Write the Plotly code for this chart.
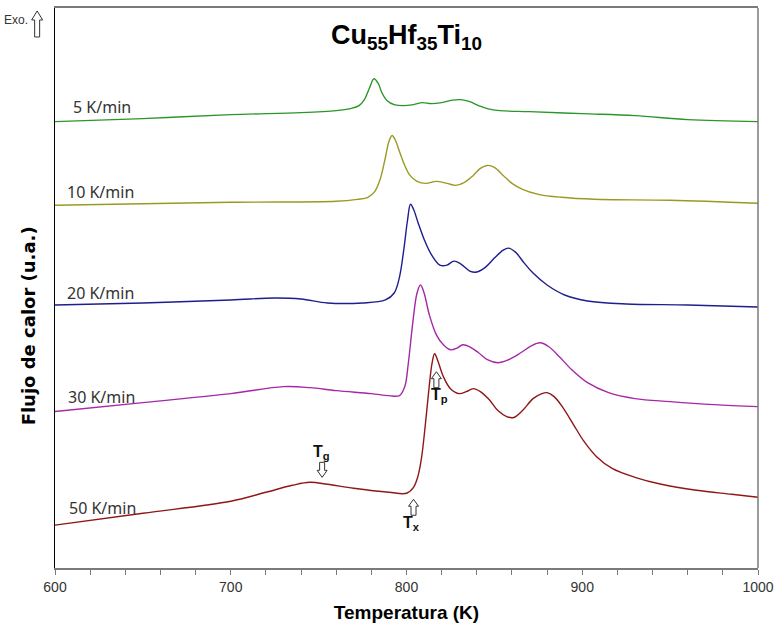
import plotly.graph_objects as go

# ---- data (T in K, heat flow in arbitrary units) ----
t_5 = [600, 650, 700, 740, 760, 768, 773, 776, 779, 781.5, 784, 786, 789, 793, 798, 804, 809, 814, 820, 826, 831, 836, 841, 846, 853, 870, 900, 930, 960, 1000]
q_5 = [448, 451, 455, 457, 459, 461, 464, 470, 482, 491, 486, 477, 469, 465, 464, 465, 467, 466, 467, 469.5, 470, 468, 464, 461, 459, 458, 456, 454, 450, 448]

t_10 = [600, 700, 760, 772, 778, 782, 785, 788, 790, 791.8, 793.5, 796, 799, 802, 806, 811, 817, 823, 828, 833, 838, 842, 846, 850, 855, 860, 866, 875, 888, 907, 950, 1000]
q_10 = [364, 367, 368, 370, 372, 378, 390, 412, 428, 434, 430, 418, 404, 394, 388, 386, 388, 386, 384, 387, 394, 401, 404, 402, 394, 386, 380, 375, 372, 370, 369, 366]

t_20 = [600, 650, 700, 725, 740, 755, 775, 788, 793, 796, 798.5, 800.5, 802.3, 804, 806.5, 810, 814, 819, 823, 827, 831, 836, 840, 845, 850, 855, 858, 862, 867, 872, 880, 890, 903, 925, 960, 1000]
q_20 = [264, 266, 269, 271, 270, 266, 266, 269, 276, 292, 320, 348, 365, 360, 347, 330, 315, 304, 304, 308, 305, 298, 297, 302, 311, 319, 321, 317, 306, 296, 284, 274, 268, 265, 264, 262]

t_30 = [600, 650, 700, 730, 745, 760, 780, 790, 796, 799, 801, 803.5, 806, 808, 810, 813, 817, 821, 825, 829, 832, 836, 841, 846, 852, 858, 865, 871, 876, 881, 887, 894, 903, 915, 930, 950, 975, 1000]
q_30 = [157, 166, 175, 182, 181, 178, 175, 173, 173, 182, 205, 245, 276, 284, 276, 254, 234, 224, 219, 221, 224, 222, 216, 209, 206, 209, 216, 223, 226, 222, 212, 199, 186, 176, 170, 167, 164, 162]

t_50 = [600, 650, 700, 720, 735, 745, 755, 770, 790, 800, 804, 806.5, 808.5, 810.5, 812.5, 814.5, 816, 818, 821, 825, 830, 834, 838, 842, 847, 852, 857, 861, 866, 872, 877, 880, 884, 889, 895, 901, 908, 917, 930, 945, 965, 985, 1000]
q_50 = [43, 55, 67, 76, 83, 86, 84, 80, 76, 75, 81, 92, 110, 140, 175, 205, 215, 207, 192, 180, 175, 177, 180, 177, 169, 158, 152, 151, 158, 170, 175, 176, 172, 161, 144, 127, 112, 100, 91, 84, 78, 74, 71]

series_names = ["5 K/min", "10 K/min", "20 K/min", "30 K/min", "50 K/min"]
series_t = [t_5, t_10, t_20, t_30, t_50]
series_q = [q_5, q_10, q_20, q_30, q_50]
series_colors = ["#2a962a", "#9a9a22", "#1e1e8e", "#a528a5", "#8e1818"]
label_x = [609, 605.6, 605.6, 606.2, 606.8]
label_y = [463, 377, 276, 172, 60]

x_ticks = [600, 700, 800, 900, 1000]

fig = go.Figure()
for name, t, q, c in zip(series_names, series_t, series_q, series_colors):
    fig.add_trace(go.Scatter(x=t, y=q, mode="lines", name=name,
                             line=dict(color=c, width=1.4, shape="spline", smoothing=1.0),
                             showlegend=False, hoverinfo="skip"))

annotations = []
for name, lx, ly in zip(series_names, label_x, label_y):
    annotations.append(dict(x=lx, y=ly, xref="x", yref="y", text=name, showarrow=False,
                            xanchor="left", yanchor="middle",
                            font=dict(family="Noto Sans", size=16, color="#333333")))

# characteristic temperature labels
annotations += [
    dict(x=751.5, y=116, xref="x", yref="y", text="<b>T<sub>g</sub></b>", showarrow=False,
         font=dict(family="Liberation Sans", size=16, color="#111111")),
    dict(x=803, y=45, xref="x", yref="y", text="<b>T<sub>x</sub></b>", showarrow=False,
         font=dict(family="Liberation Sans", size=16, color="#111111")),
    dict(x=818.5, y=173, xref="x", yref="y", text="<b>T<sub>p</sub></b>", showarrow=False,
         font=dict(family="Liberation Sans", size=16, color="#111111")),
]

layout_annotations = annotations + [
    dict(x=0.5, y=1, xref="paper", yref="paper", yshift=-10,
         text="<b>Cu<sub>55</sub>Hf<sub>35</sub>Ti<sub>10</sub></b>", showarrow=False,
         xanchor="center", yanchor="top",
         font=dict(family="Liberation Sans", size=27, color="#000000")),
    dict(x=-0.035, y=1.0, xref="paper", yref="paper", yshift=-12,
         text="Exo.", showarrow=False, xanchor="right", yanchor="middle",
         font=dict(family="Liberation Sans", size=12, color="#333333")),
    dict(x=-0.038, y=0.432, xref="paper", yref="paper", text="<b>Flujo de calor (u.a.)</b>",
         showarrow=False, textangle=-90, xanchor="center", yanchor="middle",
         font=dict(family="DejaVu Sans", size=18, color="#000000")),
]


def up_arrow(h_tot, head_h, head_w, shaft_w, down=False):
    s = -1 if not down else 1
    hw, sw = head_w / 2, shaft_w / 2
    pts = [(0, 0), (hw, s * head_h), (sw, s * head_h), (sw, s * h_tot),
           (-sw, s * h_tot), (-sw, s * head_h), (-hw, s * head_h)]
    return "M" + " L".join(f"{x},{y}" for x, y in pts) + " Z"


shapes = [
    # right border
    dict(type="line", xref="paper", yref="paper", x0=1, x1=1, y0=0, y1=1,
         line=dict(color="#7a7a7a", width=1.5)),
    # Exo arrow
    dict(type="path", xref="paper", yref="paper", xsizemode="pixel", ysizemode="pixel",
         xanchor=-0.0254, yanchor=0.9947, path=up_arrow(26, 9, 11, 5),
         line=dict(color="#333333", width=1), fillcolor="white"),
    # Tg arrow (down)
    dict(type="path", xref="x", yref="y", xsizemode="pixel", ysizemode="pixel",
         xanchor=752, yanchor=91, path=up_arrow(15, 7, 10, 5, down=True),
         line=dict(color="#333333", width=1), fillcolor="white"),
    # Tx arrow (up)
    dict(type="path", xref="x", yref="y", xsizemode="pixel", ysizemode="pixel",
         xanchor=804, yanchor=69, path=up_arrow(16, 7, 10, 5),
         line=dict(color="#333333", width=1), fillcolor="white"),
    # Tp arrow (up)
    dict(type="path", xref="x", yref="y", xsizemode="pixel", ysizemode="pixel",
         xanchor=817, yanchor=197, path=up_arrow(16, 7, 10, 5),
         line=dict(color="#333333", width=1), fillcolor="white"),
]

fig.update_layout(
    width=780, height=630,
    margin=dict(l=55, r=17, t=6, b=62),
    paper_bgcolor="white", plot_bgcolor="white",
    annotations=layout_annotations,
    shapes=shapes,
    xaxis=dict(range=[600, 1000], tickvals=x_ticks, ticktext=[str(v) for v in x_ticks],
               showgrid=False, zeroline=False, showline=True, mirror=True,
               linecolor="#7a7a7a", linewidth=1.5,
               ticks="outside", ticklen=5, tickcolor="#7a7a7a", tickwidth=1,
               minor=dict(dtick=20, ticks="outside", ticklen=5, tickcolor="#7a7a7a", tickwidth=1),
               tickfont=dict(family="Liberation Sans Narrow, Liberation Sans", size=14, color="#333333"),
               title=dict(text="<b>Temperatura (K)</b>", standoff=12,
                          font=dict(family="Liberation Sans", size=19, color="#000000"))),
    yaxis=dict(range=[0, 562], showgrid=False, zeroline=False, showline=True,
               linecolor="#000000", linewidth=1.2, showticklabels=False, ticks=""),
)

fig.write_html("out.html")
